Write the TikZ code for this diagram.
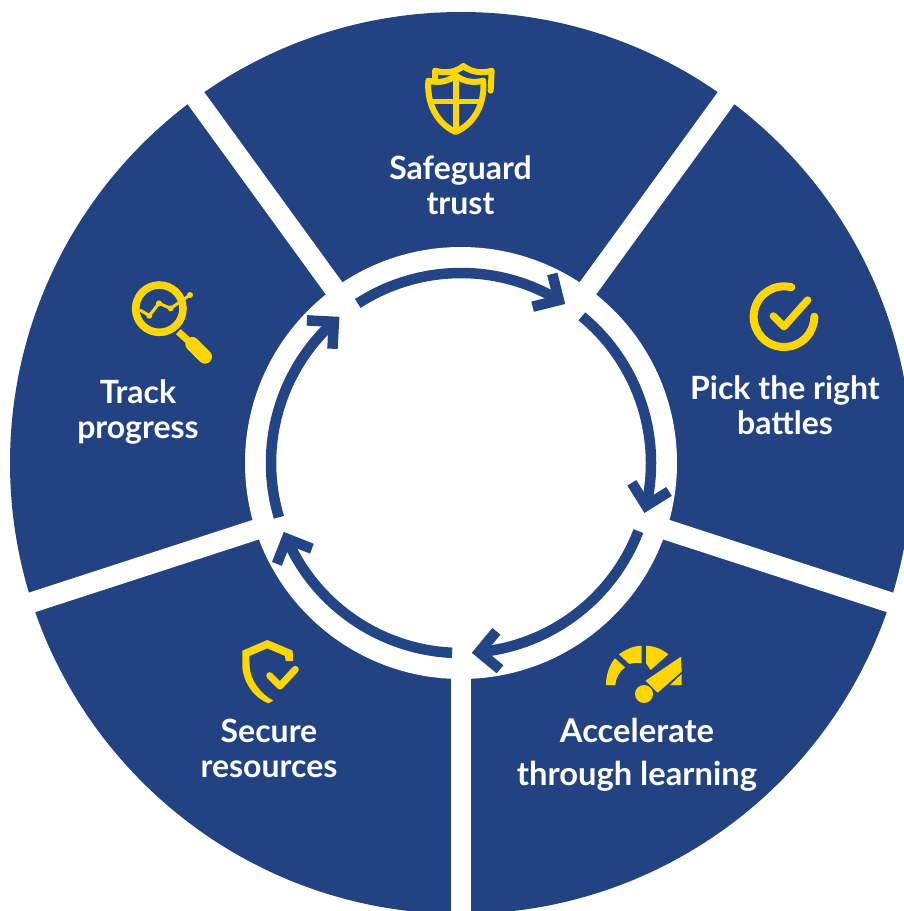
\documentclass[tikz,border=0pt]{standalone}
\usepackage{fontspec}
\setmainfont{Lato}[UprightFont=* Bold]
\definecolor{navy}{HTML}{234281}
\definecolor{arrowblue}{HTML}{234585}
\definecolor{gold}{HTML}{FFD700}
\tikzset{
  band/.style={white,line width=20.5pt},
  ringarrow/.style={draw=arrowblue,line width=10.5pt,line cap=butt,line join=miter,miter limit=10},
  label/.style={white,align=center,inner sep=0pt,font=\fontsize{32}{35}\selectfont},
  labelwide/.style={white,align=center,inner sep=0pt,font=\fontsize{32.7}{43}\selectfont},
  iconline/.style={gold,line width=6pt,line cap=round,line join=round},
}
% start angle, chevron vertex angle (image clockwise angles, radius 190)
\newcommand{\ringarc}[2]{%
  \draw[ringarrow] (centre) ++(#1:190) arc[start angle=#1,end angle=#2,radius=190];
  \path (centre) ++(#2:190) coordinate (vertex);
  \draw[ringarrow] (vertex) ++(#2-45:27) -- (vertex) -- ++(#2-135:27);}
\begin{document}
\begin{tikzpicture}[x=1pt,y=-1pt]
\useasboundingbox (0,0) rectangle (904,911);
\clip (0,0) rectangle (904,911);
\coordinate (centre) at (461,463);
\fill[navy] (centre) circle[radius=451];
\foreach \a in {-54,-126,162,90,18}
  \draw[band] (centre) -- ++(\a:480);
\fill[white] (centre) circle[radius=216];
% ring arrows
\ringarc{-122.9}{-59}
\ringarc{-50.5}{13}
\ringarc{21}{84.5}
\ringarc{92.7}{156.5}
\ringarc{163.4}{228}
% labels
\node[label] (safeguard) at (460.5,185.5) {Safeguard\\trust};
\node[label] (pick) at (785,405.5) {Pick the right\\battles};
\node[labelwide] (accelerate) at (637,755) {Accelerate\\through learning};
\node[label] (secure) at (269,748.5) {Secure\\resources};
\node[label] (track) at (138,411.5) {Track\\progress};
% shield icon
\begin{scope}[shift={(400,50)},scale=1/3]
  \draw[iconline] (105,85) -- (105,62) .. controls (140,72) and (170,65) .. (190,48) .. controls (210,65) and (245,72) .. (275,62) -- (272,122);
  \draw[iconline,fill=navy] (85,92) .. controls (115,100) and (145,95) .. (167,76) .. controls (190,95) and (220,100) .. (250,92) .. controls (255,160) and (225,220) .. (167,246) .. controls (110,220) and (80,160) .. (85,92) -- cycle;
  \draw[gold,line width=5.4pt] (168,78) -- (168,245) (85,155) -- (245,155);
\end{scope}
% check circle icon
\begin{scope}[shift={(720,270)},scale=1/3]
  \draw[gold,line width=8pt,line cap=round] (192,140) ++(-76:91) arc[start angle=-76,end angle=-360,radius=91];
  \draw[gold,line width=7.4pt,line cap=round,line join=round] (160,138) -- (192,170) -- (263,90);
\end{scope}
% gauge icon
\begin{scope}[shift={(590,630)},scale=1/3]
  \fill[gold] (48,165) .. controls (48,135) and (58,105) .. (75,85) -- (105,112) .. controls (88,125) and (77,145) .. (76,165) -- cycle;
  \fill[gold] (87,73) .. controls (107,58) and (130,48) .. (155,47) -- (155,100) .. controls (142,98) and (130,98) .. (118,102) -- cycle;
  \fill[gold] (168,47) .. controls (193,48) and (217,58) .. (235,73) -- (182,120) -- (168,100) -- cycle;
  \fill[gold] (167,152) -- (273,80) -- (275,125) -- (203,188) -- cycle;
  \fill[gold] (275,132) -- (275,165) -- (240,165) -- cycle;
  \fill[gold] (162,192) circle[radius=27];
\end{scope}
% secure shield icon
\begin{scope}[shift={(225,630)},scale=1/3]
  \fill[gold] (204,93) -- (203,62) -- (127,30) -- (52,62) -- (52,110) .. controls (55,160) and (90,205) .. (130,220) -- (145,212) .. controls (105,190) and (76,150) .. (74,110) -- (73,78) -- (127,55) -- (180,78) -- (182,93) -- cycle;
  \draw[gold,line width=7pt,line cap=round,line join=round] (134,137) -- (165,168) -- (211,118);
\end{scope}
% magnifier icon
\begin{scope}[shift={(120,275)},scale=1/3]
  \draw[gold,line width=7.6pt] (118,101) circle[radius=71];
  \draw[gold,line width=3pt] (60,105) -- (88,122) -- (117,85) -- (152,100) -- (210,60);
  \fill[gold] (88,122) circle[radius=9] (117,85) circle[radius=9] (152,100) circle[radius=9] (210,60) circle[radius=9];
  \draw[gold,line width=7pt] (175,170) -- (208,200);
  \draw[gold,line width=14pt,line cap=round] (217,207) -- (255,245);
\end{scope}
\end{tikzpicture}
\end{document}
